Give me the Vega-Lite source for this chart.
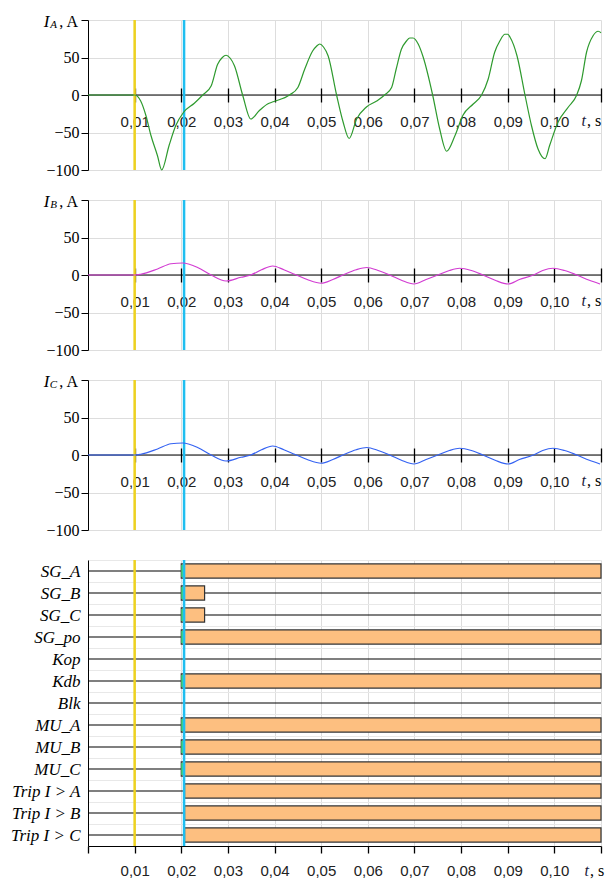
{
  "$schema": "https://vega.github.io/schema/vega-lite/v6.json",
  "padding": {"left": 0, "top": 12, "right": 0, "bottom": 0},
  "spacing": 30,
  "bounds": "flush",
  "config": {"view": {"stroke": null}},
  "datasets": {
    "ia": [
      {"t":0,"v":0},{"t":0.01,"v":0},{"t":0.0113,"v":-8},{"t":0.0124,"v":-27},{"t":0.0135,"v":-54},{"t":0.0149,"v":-81},{"t":0.0158,"v":-100},{"t":0.0174,"v":-67},{"t":0.0188,"v":-41},{"t":0.0205,"v":-23},{"t":0.0228,"v":-11},{"t":0.0246,"v":0},{"t":0.0264,"v":12},{"t":0.0278,"v":41},{"t":0.0288,"v":50},{"t":0.0296,"v":53},{"t":0.0305,"v":49},{"t":0.0314,"v":39},{"t":0.0332,"v":-1},{"t":0.0349,"v":-32},{"t":0.0367,"v":-21},{"t":0.0385,"v":-12},{"t":0.0397,"v":-9},{"t":0.0432,"v":0},{"t":0.045,"v":10},{"t":0.0465,"v":35},{"t":0.0482,"v":59},{"t":0.049,"v":65},{"t":0.0497,"v":68},{"t":0.0505,"v":64},{"t":0.0515,"v":52},{"t":0.0533,"v":0},{"t":0.0547,"v":-36},{"t":0.056,"v":-58},{"t":0.0576,"v":-32},{"t":0.0597,"v":-16},{"t":0.0619,"v":-8},{"t":0.0636,"v":0},{"t":0.0651,"v":10},{"t":0.0661,"v":35},{"t":0.0672,"v":61},{"t":0.0683,"v":72},{"t":0.069,"v":76},{"t":0.0697,"v":76},{"t":0.0708,"v":68},{"t":0.0719,"v":50},{"t":0.0739,"v":0},{"t":0.0754,"v":-45},{"t":0.0769,"v":-75},{"t":0.0787,"v":-54},{"t":0.0804,"v":-27},{"t":0.0826,"v":-12},{"t":0.0844,"v":0},{"t":0.0858,"v":21},{"t":0.0872,"v":57},{"t":0.0883,"v":72},{"t":0.0894,"v":81},{"t":0.09,"v":81},{"t":0.0905,"v":77},{"t":0.092,"v":52},{"t":0.0937,"v":0},{"t":0.0951,"v":-41},{"t":0.0965,"v":-72},{"t":0.098,"v":-85},{"t":0.099,"v":-67},{"t":0.1008,"v":-36},{"t":0.103,"v":-16},{"t":0.1048,"v":0},{"t":0.1058,"v":19},{"t":0.1069,"v":57},{"t":0.1083,"v":79},{"t":0.1094,"v":85},{"t":0.11,"v":83}
    ],
    "ib": [
      {"t":0,"v":0},{"t":0.01,"v":0},{"t":0.0113,"v":1},{"t":0.0149,"v":8},{"t":0.0178,"v":15},{"t":0.0203,"v":16},{"t":0.0235,"v":10},{"t":0.0264,"v":0},{"t":0.0296,"v":-8},{"t":0.0328,"v":-3},{"t":0.0349,"v":0},{"t":0.0372,"v":7},{"t":0.0396,"v":12},{"t":0.042,"v":7},{"t":0.0443,"v":1},{"t":0.047,"v":-6},{"t":0.05,"v":-11},{"t":0.0525,"v":-6},{"t":0.055,"v":1},{"t":0.0575,"v":7},{"t":0.0598,"v":10},{"t":0.0622,"v":6},{"t":0.0647,"v":0},{"t":0.0672,"v":-7},{"t":0.0699,"v":-12},{"t":0.0725,"v":-6},{"t":0.0754,"v":1},{"t":0.0775,"v":6},{"t":0.0797,"v":9},{"t":0.0822,"v":6},{"t":0.0847,"v":0},{"t":0.0873,"v":-7},{"t":0.0901,"v":-12},{"t":0.0925,"v":-6},{"t":0.0955,"v":0},{"t":0.0975,"v":6},{"t":0.0997,"v":9},{"t":0.1022,"v":6},{"t":0.1048,"v":0},{"t":0.1075,"v":-7},{"t":0.1098,"v":-12}
    ],
    "zero": [{"v":0}],
    "cursors": [{"t":0.01,"c":"first"},{"t":0.0206,"c":"second"}],
    "unit": [{"t":0.11,"v":0,"tt":"t","ts":", s"}],
    "labA": [{"t":0,"v":100,"main":"I","sub":"A","unit":", A"}],
    "labB": [{"t":0,"v":100,"main":"I","sub":"B","unit":", A"}],
    "labC": [{"t":0,"v":100,"main":"I","sub":"C","unit":", A"}],
    "signals": [{"sig":"SG_A"},{"sig":"SG_B"},{"sig":"SG_C"},{"sig":"SG_po"},{"sig":"Kop"},{"sig":"Kdb"},{"sig":"Blk"},{"sig":"MU_A"},{"sig":"MU_B"},{"sig":"MU_C"},{"sig":"Trip I > A"},{"sig":"Trip I > B"},{"sig":"Trip I > C"}],
    "bars": [
      {"sig":"SG_A","t0":0.02,"t1":0.11},{"sig":"SG_B","t0":0.02,"t1":0.025},{"sig":"SG_C","t0":0.02,"t1":0.025},{"sig":"SG_po","t0":0.02,"t1":0.11},{"sig":"Kdb","t0":0.02,"t1":0.11},{"sig":"MU_A","t0":0.02,"t1":0.11},{"sig":"MU_B","t0":0.02,"t1":0.11},{"sig":"MU_C","t0":0.02,"t1":0.11},{"sig":"Trip I > A","t0":0.0207,"t1":0.11},{"sig":"Trip I > B","t0":0.0207,"t1":0.11},{"sig":"Trip I > C","t0":0.0207,"t1":0.11}
    ],
    "strips": [
      {"sig":"SG_A","t0":0.02,"t1":0.0206},{"sig":"SG_B","t0":0.02,"t1":0.0206},{"sig":"SG_C","t0":0.02,"t1":0.0206},{"sig":"SG_po","t0":0.02,"t1":0.0206},{"sig":"Kdb","t0":0.02,"t1":0.0206},{"sig":"MU_A","t0":0.02,"t1":0.0206},{"sig":"MU_B","t0":0.02,"t1":0.0206},{"sig":"MU_C","t0":0.02,"t1":0.0206}
    ],
    "bottomUnit": [{"t":0.11,"sig":"Trip I > C","tt":"t","ts":", s"}]
  },
  "vconcat": [
    {
      "width": 513, "height": 150,
      "layer": [
        {"data": {"name": "zero"}, "mark": {"type": "rule", "color": "black", "strokeWidth": 1},
         "encoding": {"y": {"field": "v", "type": "quantitative", "scale": {"domain": [-100, 100], "nice": false},
           "axis": {"values": [-100, -50, 0, 50, 100], "tickCount": 20, "grid": true, "gridColor": "#dddddd", "domainColor": "black", "ticks": true, "tickColor": "black", "tickSize": 7, "labelOverlap": false, "labelExpr": "datum.value > 99 ? '' : datum.label", "labelFont": "Times New Roman, Liberation Serif, serif", "labelFontSize": 16, "labelColor": "black", "labelPadding": 2, "title": null}}}},
        {"data": {"name": "cursors"}, "mark": {"type": "rule", "strokeWidth": 2.5},
         "encoding": {"x": {"field": "t", "type": "quantitative", "scale": {"domain": [0, 0.11], "nice": false, "zero": false},
           "axis": {"values": [0.01,0.02,0.03,0.04,0.05,0.06,0.07,0.08,0.09,0.1,0.11], "tickCount": 30, "grid": true, "gridColor": "#dddddd", "domain": false, "ticks": true, "tickColor": "black", "tickWidth": 1.3, "tickSize": 14, "offset": -82, "labelOverlap": false, "labelExpr": "datum.value > 0.105 ? '' : replace(format(datum.value, '.2f'), '.', ',')", "labelFont": "Liberation Sans Narrow, Liberation Sans, sans-serif", "labelFontSize": 15, "labelColor": "#222", "labelPadding": 12, "title": null}},
           "color": {"field": "c", "type": "nominal", "scale": {"domain": ["first", "second"], "range": ["#EED21E", "#1EBEF0"]}, "legend": null}}},
        {"data": {"name": "ia"}, "mark": {"type": "line", "color": "#2E9A2E", "strokeWidth": 1.2, "interpolate": "monotone"},
         "encoding": {"x": {"field": "t", "type": "quantitative"}, "y": {"field": "v", "type": "quantitative"}}},
        {"data": {"name": "unit"}, "mark": {"type": "text", "font": "Times New Roman, Liberation Serif, serif", "fontSize": 16, "fontStyle": "italic", "align": "right", "baseline": "alphabetic", "dx": -15, "dy": 31, "color": "#1a1a3a"},
         "encoding": {"x": {"field": "t", "type": "quantitative"}, "y": {"field": "v", "type": "quantitative"}, "text": {"field": "tt"}}},
        {"data": {"name": "unit"}, "mark": {"type": "text", "font": "Times New Roman, Liberation Serif, serif", "fontSize": 16, "align": "left", "baseline": "alphabetic", "dx": -14, "dy": 31, "color": "black"},
         "encoding": {"x": {"field": "t", "type": "quantitative"}, "y": {"field": "v", "type": "quantitative"}, "text": {"field": "ts"}}},
        {"data": {"name": "labA"}, "mark": {"type": "text", "font": "Times New Roman, Liberation Serif, serif", "fontSize": 17, "fontStyle": "italic", "align": "right", "baseline": "alphabetic", "dx": -38.5, "dy": 7.4, "color": "black"},
         "encoding": {"x": {"field": "t", "type": "quantitative"}, "y": {"field": "v", "type": "quantitative"}, "text": {"field": "main"}}},
        {"data": {"name": "labA"}, "mark": {"type": "text", "font": "Times New Roman, Liberation Serif, serif", "fontSize": 11, "fontStyle": "italic", "align": "right", "baseline": "alphabetic", "dx": -31, "dy": 8.4, "color": "black"},
         "encoding": {"x": {"field": "t", "type": "quantitative"}, "y": {"field": "v", "type": "quantitative"}, "text": {"field": "sub"}}},
        {"data": {"name": "labA"}, "mark": {"type": "text", "font": "Times New Roman, Liberation Serif, serif", "fontSize": 16, "align": "right", "baseline": "alphabetic", "dx": -10, "dy": 7.4, "color": "black"},
         "encoding": {"x": {"field": "t", "type": "quantitative"}, "y": {"field": "v", "type": "quantitative"}, "text": {"field": "unit"}}}
      ]
    },
    {
      "width": 513, "height": 150,
      "layer": [
        {"data": {"name": "zero"}, "mark": {"type": "rule", "color": "black", "strokeWidth": 1},
         "encoding": {"y": {"field": "v", "type": "quantitative", "scale": {"domain": [-100, 100], "nice": false},
           "axis": {"values": [-100, -50, 0, 50, 100], "tickCount": 20, "grid": true, "gridColor": "#dddddd", "domainColor": "black", "ticks": true, "tickColor": "black", "tickSize": 7, "labelOverlap": false, "labelExpr": "datum.value > 99 ? '' : datum.label", "labelFont": "Times New Roman, Liberation Serif, serif", "labelFontSize": 16, "labelColor": "black", "labelPadding": 2, "title": null}}}},
        {"data": {"name": "cursors"}, "mark": {"type": "rule", "strokeWidth": 2.5},
         "encoding": {"x": {"field": "t", "type": "quantitative", "scale": {"domain": [0, 0.11], "nice": false, "zero": false},
           "axis": {"values": [0.01,0.02,0.03,0.04,0.05,0.06,0.07,0.08,0.09,0.1,0.11], "tickCount": 30, "grid": true, "gridColor": "#dddddd", "domain": false, "ticks": true, "tickColor": "black", "tickWidth": 1.3, "tickSize": 14, "offset": -82, "labelOverlap": false, "labelExpr": "datum.value > 0.105 ? '' : replace(format(datum.value, '.2f'), '.', ',')", "labelFont": "Liberation Sans Narrow, Liberation Sans, sans-serif", "labelFontSize": 15, "labelColor": "#222", "labelPadding": 12, "title": null}},
           "color": {"field": "c", "type": "nominal", "scale": {"domain": ["first", "second"], "range": ["#EED21E", "#1EBEF0"]}, "legend": null}}},
        {"data": {"name": "ib"}, "mark": {"type": "line", "color": "#D23CD2", "strokeWidth": 1.2, "interpolate": "monotone"},
         "encoding": {"x": {"field": "t", "type": "quantitative"}, "y": {"field": "v", "type": "quantitative"}}},
        {"data": {"name": "unit"}, "mark": {"type": "text", "font": "Times New Roman, Liberation Serif, serif", "fontSize": 16, "fontStyle": "italic", "align": "right", "baseline": "alphabetic", "dx": -15, "dy": 31, "color": "#1a1a3a"},
         "encoding": {"x": {"field": "t", "type": "quantitative"}, "y": {"field": "v", "type": "quantitative"}, "text": {"field": "tt"}}},
        {"data": {"name": "unit"}, "mark": {"type": "text", "font": "Times New Roman, Liberation Serif, serif", "fontSize": 16, "align": "left", "baseline": "alphabetic", "dx": -14, "dy": 31, "color": "black"},
         "encoding": {"x": {"field": "t", "type": "quantitative"}, "y": {"field": "v", "type": "quantitative"}, "text": {"field": "ts"}}},
        {"data": {"name": "labB"}, "mark": {"type": "text", "font": "Times New Roman, Liberation Serif, serif", "fontSize": 17, "fontStyle": "italic", "align": "right", "baseline": "alphabetic", "dx": -38.5, "dy": 7.4, "color": "black"},
         "encoding": {"x": {"field": "t", "type": "quantitative"}, "y": {"field": "v", "type": "quantitative"}, "text": {"field": "main"}}},
        {"data": {"name": "labB"}, "mark": {"type": "text", "font": "Times New Roman, Liberation Serif, serif", "fontSize": 11, "fontStyle": "italic", "align": "right", "baseline": "alphabetic", "dx": -31, "dy": 8.4, "color": "black"},
         "encoding": {"x": {"field": "t", "type": "quantitative"}, "y": {"field": "v", "type": "quantitative"}, "text": {"field": "sub"}}},
        {"data": {"name": "labB"}, "mark": {"type": "text", "font": "Times New Roman, Liberation Serif, serif", "fontSize": 16, "align": "right", "baseline": "alphabetic", "dx": -10, "dy": 7.4, "color": "black"},
         "encoding": {"x": {"field": "t", "type": "quantitative"}, "y": {"field": "v", "type": "quantitative"}, "text": {"field": "unit"}}}
      ]
    },
    {
      "width": 513, "height": 150,
      "layer": [
        {"data": {"name": "zero"}, "mark": {"type": "rule", "color": "black", "strokeWidth": 1},
         "encoding": {"y": {"field": "v", "type": "quantitative", "scale": {"domain": [-100, 100], "nice": false},
           "axis": {"values": [-100, -50, 0, 50, 100], "tickCount": 20, "grid": true, "gridColor": "#dddddd", "domainColor": "black", "ticks": true, "tickColor": "black", "tickSize": 7, "labelOverlap": false, "labelExpr": "datum.value > 99 ? '' : datum.label", "labelFont": "Times New Roman, Liberation Serif, serif", "labelFontSize": 16, "labelColor": "black", "labelPadding": 2, "title": null}}}},
        {"data": {"name": "cursors"}, "mark": {"type": "rule", "strokeWidth": 2.5},
         "encoding": {"x": {"field": "t", "type": "quantitative", "scale": {"domain": [0, 0.11], "nice": false, "zero": false},
           "axis": {"values": [0.01,0.02,0.03,0.04,0.05,0.06,0.07,0.08,0.09,0.1,0.11], "tickCount": 30, "grid": true, "gridColor": "#dddddd", "domain": false, "ticks": true, "tickColor": "black", "tickWidth": 1.3, "tickSize": 14, "offset": -82, "labelOverlap": false, "labelExpr": "datum.value > 0.105 ? '' : replace(format(datum.value, '.2f'), '.', ',')", "labelFont": "Liberation Sans Narrow, Liberation Sans, sans-serif", "labelFontSize": 15, "labelColor": "#222", "labelPadding": 12, "title": null}},
           "color": {"field": "c", "type": "nominal", "scale": {"domain": ["first", "second"], "range": ["#EED21E", "#1EBEF0"]}, "legend": null}}},
        {"data": {"name": "ib"}, "mark": {"type": "line", "color": "#3462F2", "strokeWidth": 1.2, "interpolate": "monotone"},
         "encoding": {"x": {"field": "t", "type": "quantitative"}, "y": {"field": "v", "type": "quantitative"}}},
        {"data": {"name": "unit"}, "mark": {"type": "text", "font": "Times New Roman, Liberation Serif, serif", "fontSize": 16, "fontStyle": "italic", "align": "right", "baseline": "alphabetic", "dx": -15, "dy": 31, "color": "#1a1a3a"},
         "encoding": {"x": {"field": "t", "type": "quantitative"}, "y": {"field": "v", "type": "quantitative"}, "text": {"field": "tt"}}},
        {"data": {"name": "unit"}, "mark": {"type": "text", "font": "Times New Roman, Liberation Serif, serif", "fontSize": 16, "align": "left", "baseline": "alphabetic", "dx": -14, "dy": 31, "color": "black"},
         "encoding": {"x": {"field": "t", "type": "quantitative"}, "y": {"field": "v", "type": "quantitative"}, "text": {"field": "ts"}}},
        {"data": {"name": "labC"}, "mark": {"type": "text", "font": "Times New Roman, Liberation Serif, serif", "fontSize": 17, "fontStyle": "italic", "align": "right", "baseline": "alphabetic", "dx": -38.5, "dy": 7.4, "color": "black"},
         "encoding": {"x": {"field": "t", "type": "quantitative"}, "y": {"field": "v", "type": "quantitative"}, "text": {"field": "main"}}},
        {"data": {"name": "labC"}, "mark": {"type": "text", "font": "Times New Roman, Liberation Serif, serif", "fontSize": 11, "fontStyle": "italic", "align": "right", "baseline": "alphabetic", "dx": -31, "dy": 8.4, "color": "black"},
         "encoding": {"x": {"field": "t", "type": "quantitative"}, "y": {"field": "v", "type": "quantitative"}, "text": {"field": "sub"}}},
        {"data": {"name": "labC"}, "mark": {"type": "text", "font": "Times New Roman, Liberation Serif, serif", "fontSize": 16, "align": "right", "baseline": "alphabetic", "dx": -10, "dy": 7.4, "color": "black"},
         "encoding": {"x": {"field": "t", "type": "quantitative"}, "y": {"field": "v", "type": "quantitative"}, "text": {"field": "unit"}}}
      ]
    },
    {
      "width": 513, "height": 286,
      "layer": [
        {"data": {"name": "signals"}, "mark": {"type": "rule", "color": "black", "strokeWidth": 1.2},
         "encoding": {"y": {"field": "sig", "type": "nominal",
           "scale": {"domain": ["SG_A","SG_B","SG_C","SG_po","Kop","Kdb","Blk","MU_A","MU_B","MU_C","Trip I > A","Trip I > B","Trip I > C"], "paddingInner": 0, "paddingOuter": 0},
           "axis": {"tickBand": "extent", "grid": true, "gridColor": "#e8e8e8", "ticks": false, "domainColor": "black", "labelFont": "Times New Roman, Liberation Serif, serif", "labelFontStyle": "italic", "labelFontSize": 17, "labelColor": "black", "labelPadding": 8, "minExtent": 88, "title": null}}}},
        {"data": {"name": "bars"}, "mark": {"type": "bar", "fill": "#FDBF80", "stroke": "#333", "strokeWidth": 1.2, "height": {"band": 0.64}},
         "encoding": {"x": {"field": "t0", "type": "quantitative", "scale": {"domain": [0, 0.11], "nice": false, "zero": false},
           "axis": {"values": [0,0.01,0.02,0.03,0.04,0.05,0.06,0.07,0.08,0.09,0.1,0.11], "tickCount": 30, "grid": true, "gridColor": "#dddddd", "domainColor": "black", "ticks": true, "tickColor": "black", "tickWidth": 1.3, "tickSize": 7, "labelOverlap": false, "labelExpr": "(datum.value > 0.105 || datum.value < 0.005) ? '' : replace(format(datum.value, '.2f'), '.', ',')", "labelFont": "Liberation Sans Narrow, Liberation Sans, sans-serif", "labelFontSize": 15, "labelColor": "#222", "labelPadding": 10, "title": null}},
           "x2": {"field": "t1"},
           "y": {"field": "sig", "type": "nominal"}}},
        {"data": {"name": "strips"}, "mark": {"type": "bar", "fill": "#3FD67F", "height": {"band": 0.56}},
         "encoding": {"x": {"field": "t0", "type": "quantitative"}, "x2": {"field": "t1"}, "y": {"field": "sig", "type": "nominal"}}},
        {"data": {"name": "cursors"}, "mark": {"type": "rule", "strokeWidth": 2.5},
         "encoding": {"x": {"field": "t", "type": "quantitative"},
           "color": {"field": "c", "type": "nominal", "scale": {"domain": ["first", "second"], "range": ["#EED21E", "#1EBEF0"]}, "legend": null}}},
        {"data": {"name": "bottomUnit"}, "mark": {"type": "text", "font": "Times New Roman, Liberation Serif, serif", "fontSize": 16, "fontStyle": "italic", "align": "right", "baseline": "alphabetic", "dx": -12, "dy": 40.7, "color": "#1a1a3a"},
         "encoding": {"x": {"field": "t", "type": "quantitative"}, "y": {"field": "sig", "type": "nominal"}, "text": {"field": "tt"}}},
        {"data": {"name": "bottomUnit"}, "mark": {"type": "text", "font": "Times New Roman, Liberation Serif, serif", "fontSize": 16, "align": "left", "baseline": "alphabetic", "dx": -11, "dy": 40.7, "color": "black"},
         "encoding": {"x": {"field": "t", "type": "quantitative"}, "y": {"field": "sig", "type": "nominal"}, "text": {"field": "ts"}}}
      ]
    }
  ]
}
